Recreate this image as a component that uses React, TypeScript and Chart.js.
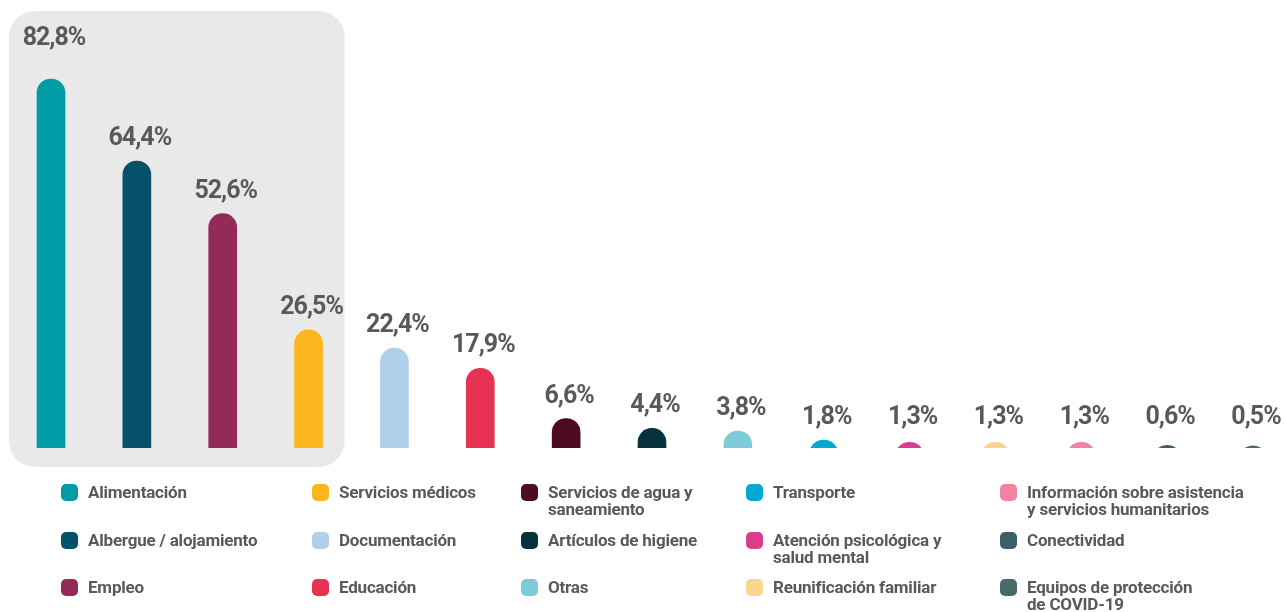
import React, { useEffect, useRef } from "react";
import { Chart, registerables } from "chart.js";

Chart.register(...registerables);

const categories: string[][] = [
  ["Alimentación"],
  ["Albergue / alojamiento"],
  ["Empleo"],
  ["Servicios médicos"],
  ["Documentación"],
  ["Educación"],
  ["Servicios de agua y", "saneamiento"],
  ["Artículos de higiene"],
  ["Otras"],
  ["Transporte"],
  ["Atención psicológica y", "salud mental"],
  ["Reunificación familiar"],
  ["Información sobre asistencia", "y servicios humanitarios"],
  ["Conectividad"],
  ["Equipos de protección", "de COVID-19"],
];

const values: number[] = [82.8, 64.4, 52.6, 26.5, 22.4, 17.9, 6.6, 4.4, 3.8, 1.8, 1.3, 1.3, 1.3, 0.6, 0.5];

const valueLabels: string[] = [
  "82,8%", "64,4%", "52,6%", "26,5%", "22,4%", "17,9%", "6,6%", "4,4%", "3,8%",
  "1,8%", "1,3%", "1,3%", "1,3%", "0,6%", "0,5%",
];

const colors: string[] = [
  "#009ca6", "#07506a", "#922b58", "#fbb61e", "#b0cfea", "#e83253", "#4d0c1f",
  "#06323e", "#7ecbd8", "#00aad3", "#da3d8b", "#f9d58f", "#ef83a0", "#3b5f67", "#486b68",
];

// legend layout: column-major, 3 rows
const legendColX = [61, 312, 521, 746, 1000];
const legendRowY = [484, 532, 579];

const LABEL_COLOR = "#58595b";
const FONT = "Roboto, 'DejaVu Sans', sans-serif";

export default function App() {
  const ref = useRef<HTMLCanvasElement | null>(null);

  useEffect(() => {
    const canvas = ref.current;
    if (!canvas) return;

    const bgBox = {
      id: "bgBox",
      beforeDatasetsDraw(chart: any) {
        const { ctx } = chart;
        const xs = chart.scales.x;
        const ys = chart.scales.y;
        const left = xs.getPixelForValue(0) - 42;
        const right = xs.getPixelForValue(3) + 36;
        const top = 11;
        const bottom = ys.getPixelForValue(0) + 19;
        ctx.save();
        ctx.fillStyle = "#e9e9e9";
        ctx.beginPath();
        ctx.roundRect(left, top, right - left, bottom - top, 26);
        ctx.fill();
        ctx.restore();
      },
    };

    const valueLabelPlugin = {
      id: "valueLabels",
      afterDatasetsDraw(chart: any) {
        const { ctx } = chart;
        const meta = chart.getDatasetMeta(0);
        const base = chart.scales.y.getPixelForValue(0);
        ctx.save();
        ctx.fillStyle = LABEL_COLOR;
        ctx.font = `700 25px ${FONT}`;
        (ctx as any).letterSpacing = "-1px";
        ctx.textAlign = "center";
        ctx.textBaseline = "alphabetic";
        meta.data.forEach((bar: any, i: number) => {
          let y = Math.min(bar.y - 16, base - 24);
          if (i === 0) y = bar.y - 34;
          ctx.fillText(valueLabels[i], bar.x + 3, y);
        });
        ctx.restore();
      },
    };

    const chart = new Chart(canvas, {
      type: "bar",
      data: {
        labels: categories.map((c) => c.join(" ")),
        datasets: [
          {
            data: values,
            backgroundColor: colors,
            borderRadius: 14,
            borderSkipped: "start",
            barThickness: 28,
            base: -10,
            clip: { left: false, right: false, top: false, bottom: 0 } as any,
          } as any,
        ],
      },
      options: {
        responsive: false,
        animation: false,
        layout: { padding: { top: 2.4, bottom: 164, left: 51, right: 31 } },
        plugins: { legend: { display: false }, tooltip: { enabled: false } },
        scales: {
          x: { display: false, offset: false, grid: { display: false } },
          y: { display: false, min: 0, max: 100 },
        },
      },
      plugins: [bgBox, valueLabelPlugin],
    });
    return () => chart.destroy();
  }, []);

  return (
    <div style={{ position: "absolute", left: 0, top: 0, width: 1284, height: 612 }}>
      <canvas ref={ref} width={1284} height={612} style={{ width: 1284, height: 612, display: "block" }} />
      {categories.map((lines, i) => {
        const col = Math.floor(i / 3);
        const row = i % 3;
        return (
          <div
            key={i}
            style={{
              position: "absolute",
              left: legendColX[col],
              top: legendRowY[row],
              display: "flex",
              alignItems: "flex-start",
              fontFamily: FONT,
              fontWeight: 700,
              fontSize: 17,
              lineHeight: "17px",
              color: LABEL_COLOR,
              letterSpacing: "-0.2px",
            }}
          >
            <span
              style={{
                display: "inline-block",
                width: 17,
                height: 17,
                borderRadius: 5,
                background: colors[i],
                marginRight: 10,
                flex: "none",
              }}
            />
            <span>
              {lines.map((l, k) => (
                <div key={k}>{l}</div>
              ))}
            </span>
          </div>
        );
      })}
    </div>
  );
}
